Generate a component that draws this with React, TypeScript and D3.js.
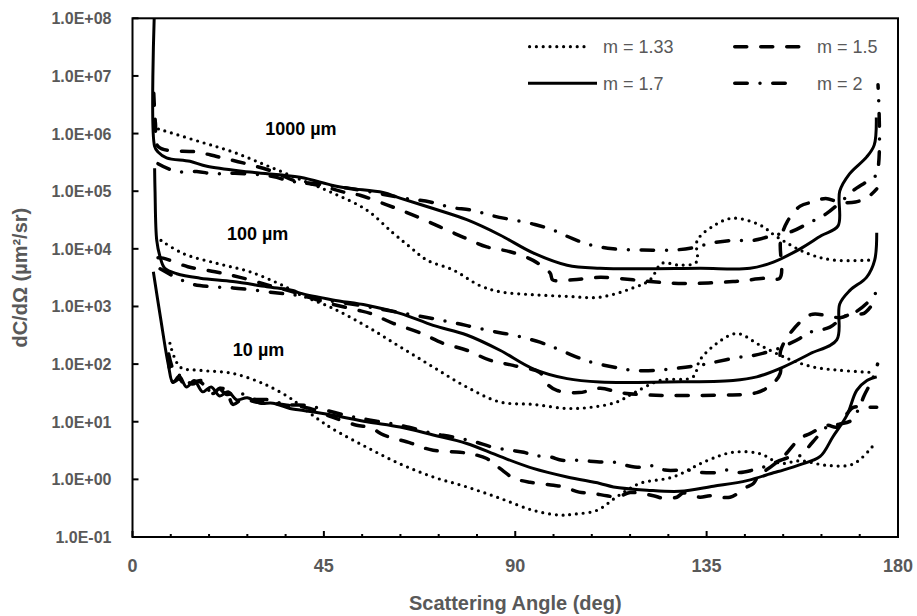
import React, { useEffect, useRef } from "react";
import * as d3 from "d3";

type Pt = [number, number];

// scattering angle (deg), dC/dΩ (µm²/sr)

// 1000 µm
const dot1000: Pt[] = [
  [6.1, 1.2e6], [15.9, 7.2e5], [23.6, 4.8e5], [31.5, 2.8e5], [39.4, 1.6e5], [47.1, 9.3e4],
  [55.1, 4.7e4], [61.2, 1.9e4], [65.3, 1.07e4], [69.2, 6.4e3], [75.4, 4.3e3], [81.7, 2.3e3],
  [86.4, 1.8e3], [94.2, 1.6e3], [102.2, 1.5e3], [109.9, 1.45e3], [117.7, 2.1e3], [121.7, 2.9e3],
  [124.5, 5.6e3], [128.7, 5.2e3], [132.6, 5.9e3], [132.8, 1.4e4], [137, 2.6e4], [141.2, 3.4e4],
  [147.5, 2.6e4], [151.6, 1.6e4], [158.6, 8.4e3], [164.7, 6.4e3], [174.1, 6.4e3],
];
const dash1000: Pt[] = [
  [5.0, 5e6], [5.4, 1.5e6], [6.1, 5.9e5], [15.1, 4.8e5], [19.8, 4.0e5], [26.0, 3.1e5],
  [33.0, 2.2e5], [37.7, 1.56e5], [45, 1.2e5], [50, 9.5e4], [53.5, 8.5e4], [59.8, 5.8e4],
  [66.0, 3.85e4], [72.3, 2.4e4], [77.7, 1.6e4], [83.3, 1.08e4], [88.8, 8.9e3], [94.2, 6.3e3],
  [98.2, 3.8e3], [98.8, 2.9e3], [103.6, 2.9e3], [110, 3.2e3], [117.7, 2.9e3], [121.7, 2.7e3],
  [129.5, 2.5e3], [141.2, 2.7e3], [149, 3.1e3], [152.2, 3.1e3], [152.4, 1.4e4], [154, 3.0e4],
  [157, 5.5e4], [160, 6.5e4], [163, 7.5e4], [166, 6.5e4], [170, 6.5e4], [173, 8e4], [175, 1.1e5],
];
const solid1000: Pt[] = [
  [5.1, 1e8], [5.2, 6e5], [6.0, 4.8e5], [8.0, 3.8e5], [13.5, 3.3e5], [17.5, 2.7e5],
  [27.6, 2.15e5], [39.4, 1.75e5], [47.1, 1.26e5], [51.1, 1.12e5], [58.9, 9.5e4], [62.9, 7.6e4],
  [70.7, 5.0e4], [78.6, 3.2e4], [86.4, 1.74e4], [94.2, 8.5e3], [102.2, 5.2e3], [109.9, 4.6e3],
  [120, 4.5e3], [133.4, 4.6e3], [145.2, 4.6e3], [150.7, 5.9e3], [157, 1.0e4], [162, 1.7e4],
  [165.9, 2.5e4], [166.3, 1.0e5], [168.6, 2.0e5], [172.6, 3.9e5], [174.4, 6.3e5], [174.9, 1.9e6],
];
const dashdot1000: Pt[] = [
  [6.0, 3.0e5], [10.2, 2.2e5], [15.1, 2.2e5], [19.2, 2.0e5], [24.1, 2.05e5], [33, 1.8e5],
  [37, 1.5e5], [45, 1.3e5], [55, 1.0e5], [63.7, 7.6e4], [70, 6.5e4], [75, 5.2e4], [79.8, 4.7e4],
  [85, 3.7e4], [94.6, 2.65e4], [99, 2.1e4], [103.5, 1.5e4], [108, 1.15e4], [113, 1.0e4],
  [120, 9.5e3], [127, 9.5e3], [132, 1.05e4], [136, 1.25e4], [141, 1.4e4], [146, 1.4e4],
  [150.5, 1.7e4], [155, 2.0e4], [159, 2.8e4], [163, 4.0e4], [167, 7e4], [170, 1.1e5],
  [173.5, 1.6e5], [175, 2.0e5], [175.3, 7e6],
];

// 100 µm
const dot100: Pt[] = [
  [6.7, 1.4e4], [11.9, 8.3e3], [19.8, 5.6e3], [27.6, 4.0e3], [35.4, 2.3e3], [39.4, 1.6e3],
  [47.1, 9.3e2], [55.1, 4.5e2], [62.9, 2.0e2], [70.7, 89], [78.6, 40], [86.4, 22], [94.2, 20],
  [102.2, 17], [108.3, 18], [113.9, 22], [117.7, 31], [124, 52], [131.8, 60], [133.4, 117],
  [137.4, 229], [142.1, 339], [147.5, 214], [153.9, 126], [160.1, 89], [166.4, 78], [173.4, 72],
];
const dash100: Pt[] = [
  [6.0, 7.0e3], [7.2, 6.9e3], [13.0, 4.9e3], [19.4, 4.0e3], [25.3, 3.2e3], [32.3, 2.3e3],
  [37.7, 1.8e3], [45, 1.2e3], [52.7, 8.7e2], [55.9, 7.6e2], [61.3, 5.1e2], [67.6, 3.5e2],
  [73, 2.3e2], [78.6, 1.74e2], [84, 1.17e2], [89.5, 95], [95.8, 71], [97.4, 46], [99.8, 35],
  [105, 32], [110, 38], [114.6, 32], [121.7, 29], [137.4, 29], [146.8, 32], [150.7, 47],
  [152.3, 69], [152.4, 1.7e2], [155, 3.7e2], [159.5, 7.2e2], [163, 7e2], [166.4, 6.4e2],
  [169.5, 7.6e2], [172, 7.6e2], [175, 1.4e3],
];
const solid100: Pt[] = [
  [5.2, 2.5e5], [5.3, 1.0e5], [5.7, 1.4e4], [6.5, 7.2e3], [7.6, 4.6e3], [10.4, 3.7e3],
  [15.9, 3.1e3], [23.6, 2.7e3], [31.6, 2.2e3], [37.7, 1.9e3], [39.4, 1.7e3], [47.1, 1.3e3],
  [55.1, 1.05e3], [62.9, 7.6e2], [70.7, 4.7e2], [78.6, 3.2e2], [86.4, 1.74e2], [94.2, 83],
  [102.2, 56], [109.9, 49], [125.6, 49], [141.2, 52], [146.8, 60], [153, 89], [159.3, 151],
  [165.6, 263], [166.3, 1.1e3], [168.7, 1.9e3], [172.6, 3.2e3], [174.5, 6.3e3], [175, 1.9e4],
];
const dashdot100: Pt[] = [
  [6.5, 4.5e3], [13.5, 2.5e3], [18.6, 2.2e3], [23.6, 2.1e3], [33, 1.75e3], [37.7, 1.6e3],
  [45, 1.3e3], [55, 1.0e3], [63.7, 7.6e2], [70.4, 6.2e2], [76.3, 5.1e2], [80.1, 4.4e2],
  [86.4, 3.5e2], [89.5, 3.2e2], [95.8, 2.4e2], [99, 1.95e2], [104.8, 1.3e2], [108, 1.07e2],
  [113, 89], [117.4, 78], [123.6, 78], [126.8, 83], [133, 95], [136.6, 107], [142.8, 132],
  [146, 141], [151.8, 186], [157, 282], [158.8, 347], [164, 437], [167, 6.5e2], [170, 8e2],
  [173, 1.2e3], [175, 1.8e3],
];

// 10 µm
const dot10: Pt[] = [
  [8.8, 2.3e2], [11.2, 89], [15.9, 78], [23.6, 69], [31.6, 43], [37.7, 24], [39.4, 19],
  [43, 12], [47.1, 7.5], [55.1, 3.6], [62.9, 1.86], [70.7, 1.1], [78.6, 0.74], [86.4, 0.47],
  [94.2, 0.29], [100.5, 0.24], [104, 0.25], [109.2, 0.29], [113.9, 0.5], [119.3, 0.85],
  [127.1, 1.1], [135, 2.1], [141.2, 2.95], [147.5, 2.8], [152.3, 1.9], [157, 2.1],
  [163.3, 1.75], [169.5, 1.85], [174.1, 3.8],
];
const dash10: Pt[] = [
  [8.4, 1.4e2], [9.5, 49], [11, 55], [12.7, 40], [14.5, 50], [15.9, 49], [17.5, 38],
  [18.9, 31], [20.5, 38], [22.1, 35], [23.6, 20], [26, 25], [29, 22], [33, 21], [37, 19],
  [41.7, 17], [47, 12], [52.7, 8.7], [55.9, 7.9], [59, 5.9], [61.3, 5.2], [65.3, 4.3],
  [67.6, 3.7], [70.7, 3.2], [77, 2.95], [79.4, 2.8], [83.3, 2.3], [84.8, 1.9], [88, 1.26],
  [89.5, 1.05], [93.5, 0.89], [99, 0.79], [101.4, 0.74], [105, 0.6], [107.6, 0.58],
  [111.5, 0.52], [114, 0.49], [117, 0.59], [122.5, 0.52], [124.8, 0.47], [128, 0.49],
  [129.5, 0.58], [133.4, 0.49], [135.8, 0.52], [140.5, 0.49], [144.5, 0.74], [146, 0.85],
  [147.5, 1.26], [149, 1.45], [153, 2.45], [154, 2.95], [157, 5.2], [159.3, 6.2], [163.3, 8.7],
  [165.6, 8.1], [168, 13.8], [169.5, 17.8], [172.6, 17.8], [175, 17.8],
];
const solid10: Pt[] = [
  [4.9, 4.0e3], [6.6, 6.3e2], [8.4, 1.0e2], [9.5, 48], [11, 62], [12.7, 40], [14.5, 52],
  [16.5, 33], [18.5, 40], [20.5, 28], [22.5, 33], [24.5, 24], [27, 26], [30, 21], [33, 21],
  [37, 17], [39.4, 16], [47.1, 13], [55.1, 10], [62.9, 8.1], [70.7, 5.9], [78.6, 4.2],
  [86.4, 2.5], [94.2, 1.55], [102.2, 1.1], [109.9, 0.85], [113.1, 0.74], [121, 0.65],
  [128.7, 0.62], [136.6, 0.76], [144.5, 0.95], [150.7, 1.3], [153, 1.45], [157, 1.8],
  [161.7, 2.5], [164.7, 5.5], [168, 13], [170.3, 35], [172.7, 52], [175, 60],
];
const dashdot10: Pt[] = [
  [8.5, 1.5e2], [10, 70], [12, 60], [14, 45], [16, 52], [18, 35], [20, 40], [22, 30],
  [25, 32], [28, 25], [32, 24], [36, 20], [41.7, 19], [44, 17], [50, 13], [55, 11],
  [60, 9.5], [65, 8], [70.4, 6.3], [75, 5.5], [80, 4.6], [84.8, 3.6], [88.8, 3.2],
  [92, 2.95], [94.3, 2.6], [98.2, 2.45], [101, 2.15], [104.5, 2.15], [110.3, 2.0], [113, 2.0],
  [116.2, 1.74], [119.3, 1.62], [121.7, 1.74], [125.2, 1.45], [130.4, 1.45], [133.9, 1.32],
  [137.4, 1.32], [139.7, 1.45], [142.8, 1.32], [145.9, 1.45], [148.3, 1.62], [153.9, 2.35],
  [157, 2.6], [160, 4.5], [163.3, 8.1], [166, 9], [169, 10.5], [170.8, 17], [172, 28],
  [174, 55], [175.2, 1.0e2],
];

const sizeLabels = ["1000 µm", "100 µm", "10 µm"];
// where each size label starts (deg, value at text baseline)
const sizeLabelAt: Pt[] = [[31.2, 9.3e5], [22.2, 1.4e4], [23.6, 1.4e2]];
const legendLabels = ["m = 1.33", "m = 1.5", "m = 1.7", "m = 2"];
const yTicks = [1e-1, 1e0, 1e1, 1e2, 1e3, 1e4, 1e5, 1e6, 1e7, 1e8];
const xTicks = [0, 45, 90, 135, 180];

// one row per particle size, columns follow legendLabels
const groups: Pt[][][] = [
  [dot1000, dash1000, solid1000, dashdot1000],
  [dot100, dash100, solid100, dashdot100],
  [dot10, dash10, solid10, dashdot10],
];

const strokes = [
  { dash: "0 6.8", width: 3.2 },
  { dash: "12 14", width: 3.5 },
  { dash: null, width: 3 },
  { dash: "12.5 12.75 0 12.75", width: 3.5 },
];

const W = 917;
const H = 616;
const margin = { top: 18.3, right: 19, bottom: 79, left: 132.5 };
const FONT = "'Liberation Sans', Arial, sans-serif";
const GREY = "#595959";

const fmtE = (v: number) => {
  const e = Math.round(Math.log10(v));
  return `1.0E${e < 0 ? "-" : "+"}${String(Math.abs(e)).padStart(2, "0")}`;
};

export default function App() {
  const ref = useRef<SVGSVGElement>(null);

  useEffect(() => {
    const svg = d3.select(ref.current);
    svg.selectAll("*").remove();

    const x = d3.scaleLinear().domain([0, 180]).range([margin.left, W - margin.right]);
    const y = d3.scaleLog().domain([0.1, 1e8]).range([H - margin.bottom, margin.top]);
    const [x0, x1] = x.range();
    const [y0, y1] = y.range();

    svg.append("rect").attr("width", W).attr("height", H).attr("fill", "#fff");

    svg
      .append("clipPath")
      .attr("id", "plot-clip")
      .append("rect")
      .attr("x", x0)
      .attr("y", y1)
      .attr("width", x1 - x0)
      .attr("height", y0 - y1);

    // curves
    const line = d3
      .line<Pt>()
      .x((d) => x(d[0]))
      .y((d) => y(d[1]))
      .curve(d3.curveCatmullRom.alpha(0.5));

    const curves = svg.append("g").attr("clip-path", "url(#plot-clip)");
    groups.forEach((grp) => {
      grp.forEach((data, i) => {
        const st = strokes[i];
        curves
          .append("path")
          .attr("d", line(data))
          .attr("fill", "none")
          .attr("stroke", "#000")
          .attr("stroke-width", st.width)
          .attr("stroke-linecap", st.dash ? "round" : "butt")
          .attr("stroke-linejoin", "round")
          .attr("stroke-dasharray", st.dash);
      });
    });

    // frame
    svg
      .append("rect")
      .attr("x", x0)
      .attr("y", y1)
      .attr("width", x1 - x0)
      .attr("height", y0 - y1)
      .attr("fill", "none")
      .attr("stroke", "#000")
      .attr("stroke-width", 2);

    // y ticks (inside) + labels
    const yAxis = svg.append("g");
    yAxis
      .selectAll("line")
      .data(yTicks)
      .enter()
      .append("line")
      .attr("x1", x0)
      .attr("x2", x0 + 6)
      .attr("y1", (d) => y(d))
      .attr("y2", (d) => y(d))
      .attr("stroke", "#000")
      .attr("stroke-width", 2);
    yAxis
      .selectAll("text")
      .data(yTicks)
      .enter()
      .append("text")
      .attr("x", x0 - 21)
      .attr("y", (d) => y(d) + 6)
      .attr("text-anchor", "end")
      .attr("font-family", FONT)
      .attr("font-weight", "bold")
      .attr("font-size", 16)
      .attr("fill", GREY)
      .text((d) => fmtE(d));

    // x ticks: majors every 45, minors every 9
    const xAxis = svg.append("g");
    xAxis
      .selectAll("line")
      .data(d3.range(0, 181, 9))
      .enter()
      .append("line")
      .attr("x1", (d) => x(d))
      .attr("x2", (d) => x(d))
      .attr("y1", y0)
      .attr("y2", (d) => (d % 45 === 0 ? y0 - 6 : y0 - 3))
      .attr("stroke", "#000")
      .attr("stroke-width", 2);
    xAxis
      .selectAll("text")
      .data(xTicks)
      .enter()
      .append("text")
      .attr("x", (d) => x(d))
      .attr("y", y0 + 35)
      .attr("text-anchor", "middle")
      .attr("font-family", FONT)
      .attr("font-weight", "bold")
      .attr("font-size", 18)
      .attr("fill", GREY)
      .text((d) => String(d));

    // axis titles
    svg
      .append("text")
      .attr("x", (x0 + x1) / 2)
      .attr("y", 610)
      .attr("text-anchor", "middle")
      .attr("font-family", FONT)
      .attr("font-weight", "bold")
      .attr("font-size", 20)
      .attr("fill", GREY)
      .text("Scattering Angle (deg)");
    svg
      .append("text")
      .attr("transform", `translate(27,${(y0 + y1) / 2}) rotate(-90)`)
      .attr("text-anchor", "middle")
      .attr("font-family", FONT)
      .attr("font-weight", "bold")
      .attr("font-size", 20)
      .attr("fill", GREY)
      .text("dC/dΩ (µm²/sr)");

    // size annotations
    svg
      .append("g")
      .selectAll("text")
      .data(sizeLabels)
      .enter()
      .append("text")
      .attr("x", (d, i) => x(sizeLabelAt[i][0]))
      .attr("y", (d, i) => y(sizeLabelAt[i][1]))
      .attr("font-family", FONT)
      .attr("font-weight", "bold")
      .attr("font-size", 18)
      .attr("fill", "#000")
      .text((d) => d);

    // legend, 2 x 2
    const legend = svg.append("g").attr("transform", "translate(528,46.7)");
    const sampleLen = [60, 69, 69, 54];
    legendLabels.forEach((lab, i) => {
      const col = i % 2;
      const row = Math.floor(i / 2);
      const gx = col * 205;
      const gy = row * 36.6;
      const st = strokes[i];
      const pad = st.dash ? st.width / 2 : 0;
      legend
        .append("line")
        .attr("x1", gx + pad)
        .attr("x2", gx + sampleLen[i] - pad)
        .attr("y1", gy)
        .attr("y2", gy)
        .attr("stroke", "#000")
        .attr("stroke-width", st.width)
        .attr("stroke-linecap", st.dash ? "round" : "butt")
        .attr("stroke-dasharray", st.dash);
      legend
        .append("text")
        .attr("x", gx + 75 + col * 9)
        .attr("y", gy + 6.5)
        .attr("font-family", FONT)
        .attr("font-size", 18)
        .attr("fill", GREY)
        .text(lab);
    });
  }, []);

  return (
    <div style={{ position: "absolute", left: 0, top: 0, background: "#fff" }}>
      <svg ref={ref} width={W} height={H} style={{ display: "block" }} />
    </div>
  );
}
